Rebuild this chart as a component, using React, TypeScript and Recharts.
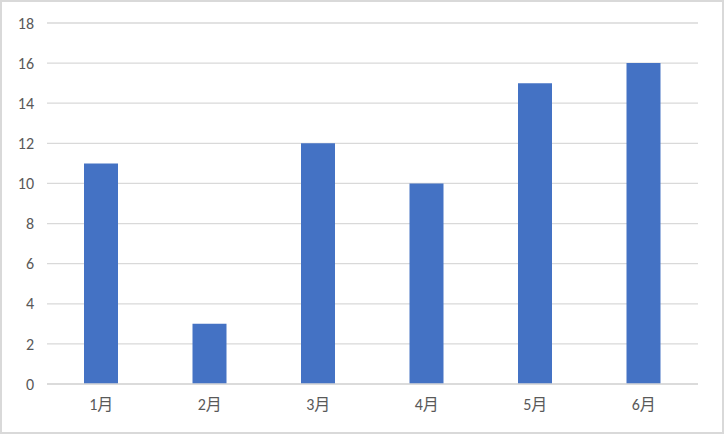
import React from 'react'
import { BarChart, Bar, XAxis, YAxis, CartesianGrid } from 'recharts'

const months = ['1月', '2月', '3月', '4月', '5月', '6月']
const values = [11, 3, 12, 10, 15, 16]
const yTicks = [0, 2, 4, 6, 8, 10, 12, 14, 16, 18]

const data = months.map((m, i) => ({ month: m, value: values[i] }))

const tickStyle = {
  fontSize: 16,
  fill: '#595959',
  fontFamily: 'Carlito, "Noto Sans CJK SC", "Liberation Sans", sans-serif',
}

export default function App() {
  return (
    <div
      style={{
        width: 724,
        height: 434,
        boxSizing: 'border-box',
        border: '2px solid #d9d9d9',
        background: '#fff',
      }}
    >
      <style>{'body{margin:0}'}</style>
      <BarChart
        width={720}
        height={430}
        data={data}
        margin={{ top: 21, right: 24, left: 0, bottom: 0 }}
      >
        <CartesianGrid vertical={false} stroke="#d9d9d9" strokeWidth={1.3} />
        <XAxis
          dataKey="month"
          height={48}
          tickLine={false}
          axisLine={{ stroke: '#d9d9d9', strokeWidth: 1.3 }}
          tickMargin={9}
          tick={tickStyle}
        />
        <YAxis
          width={45}
          domain={[0, 18]}
          ticks={yTicks}
          interval={0}
          tickLine={false}
          axisLine={false}
          tickMargin={7}
          tick={tickStyle}
        />
        <Bar dataKey="value" fill="#4472c4" barSize={34} isAnimationActive={false} />
      </BarChart>
    </div>
  )
}
